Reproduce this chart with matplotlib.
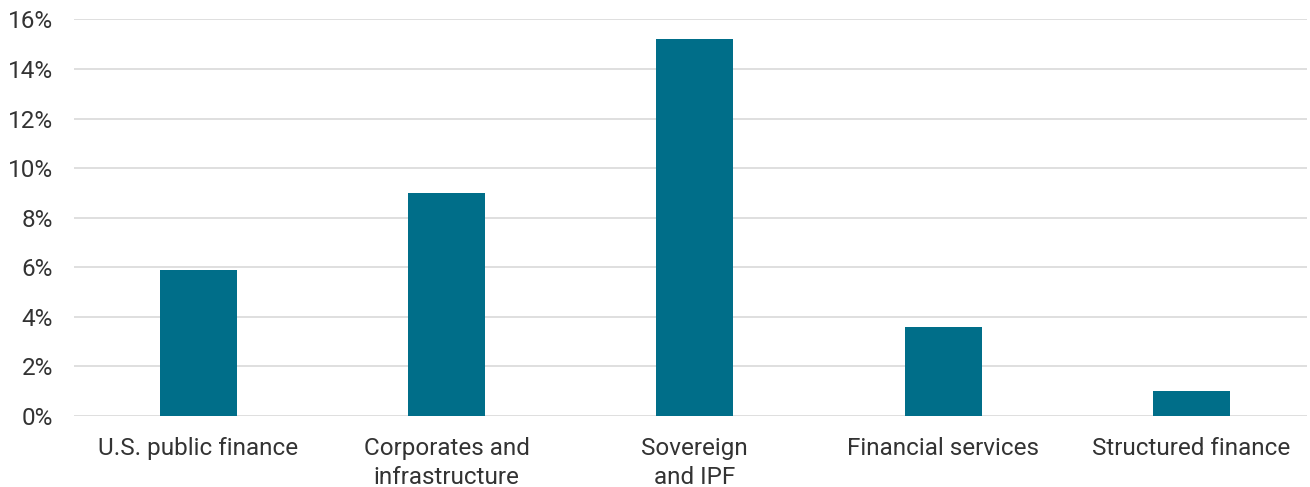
import matplotlib.pyplot as plt
from matplotlib.ticker import FuncFormatter

# Values (%)
categories = ["U.S. public finance", "Corporates and\ninfrastructure", "Sovereign\nand IPF",
              "Financial services", "Structured finance"]
values = [5.9, 9.0, 15.2, 3.6, 1.0]
y_ticks = [0, 2, 4, 6, 8, 10, 12, 14, 16]

plt.rcParams['font.family'] = ['Roboto', 'DejaVu Sans']

fig = plt.figure(figsize=(13.1, 4.87), dpi=100)
ax = fig.add_axes([0.0565, 0.1464, 0.9412, 0.8136])

ax.bar(range(len(categories)), values, width=0.31, color='#006E89', zorder=3)

ax.set_xlim(-0.5, len(categories) - 0.535)
ax.set_ylim(0, 16)
ax.set_yticks(y_ticks)
ax.yaxis.set_major_formatter(FuncFormatter(lambda v, p: f"{v:.0f}%"))
ax.set_xticks(range(len(categories)))
ax.set_xticklabels(categories, linespacing=1.3, va='top')

ax.grid(axis='y', color='#d9d9d9', linewidth=1.2, zorder=0)
for s in ax.spines.values():
    s.set_visible(False)
ax.tick_params(axis='both', length=0, labelsize=17.5, labelcolor='#333333')
ax.tick_params(axis='y', pad=15)
ax.tick_params(axis='x', pad=15.5)

fig.savefig('out.png', dpi=100)
